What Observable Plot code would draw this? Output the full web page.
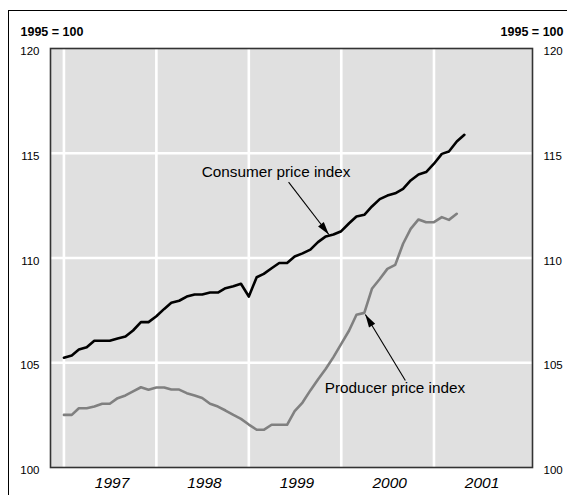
<!DOCTYPE html>
<html><head><meta charset="utf-8">
<script src="https://cdn.jsdelivr.net/npm/d3@7"></script>
<script src="https://cdn.jsdelivr.net/npm/@observablehq/plot@0.6"></script>
<style>
html,body{margin:0;padding:0;background:#fff;overflow:hidden;}
#wrap{position:relative;width:567px;height:495px;overflow:hidden;}
#outer{position:absolute;left:8px;top:10px;width:700px;height:700px;border:1.6px solid #000;box-sizing:border-box;}
#chart{position:absolute;left:0;top:0;}
</style></head><body>
<div id="wrap"><div id="outer"></div><div id="chart"></div></div>
<script>
// ---- data (monthly, index 1995 = 100) ----
const firstMonth = "1997-01-01";
const cpiValues = [
  105.24,105.35,105.63,105.74,106.05,106.05,106.05,106.16,106.25,106.54,106.94,106.94,
  107.22,107.57,107.86,107.96,108.16,108.26,108.26,108.35,108.35,108.56,108.65,108.77,
  108.16,109.08,109.24,109.51,109.76,109.76,110.07,110.22,110.40,110.76,111.03,111.12,
  111.28,111.66,111.98,112.06,112.46,112.81,112.98,113.09,113.30,113.70,113.99,114.10,
  114.50,114.97,115.08,115.56,115.88
];
const ppiValues = [
  102.51,102.51,102.83,102.83,102.91,103.04,103.04,103.31,103.44,103.63,103.83,103.71,
  103.82,103.82,103.72,103.72,103.55,103.44,103.32,103.04,102.91,102.72,102.51,102.32,
  102.05,101.80,101.80,102.04,102.04,102.04,102.69,103.10,103.68,104.20,104.71,105.27,
  105.90,106.54,107.29,107.38,108.53,109.00,109.48,109.67,110.68,111.39,111.84,111.71,
  111.71,111.95,111.82,112.11
];
const seriesNames = ["Consumer price index", "Producer price index"];
const seriesColors = ["#000000", "#808080"];
const yearStarts = ["1997-01-01","1998-01-01","1999-01-01","2000-01-01","2001-01-01"];
const yearLabels = ["1997","1998","1999","2000","2001"];
const yearLabelPos = ["1997-07-02","1998-07-02","1999-07-02","2000-07-02","2001-07-02"];
const yTicks = [100,105,110,115,120];
const yGrid = [105,110,115];
const unitLabel = "1995 = 100";
const xDomain = ["1996-11-09","2002-01-25"];
const yDomain = [100,120];
// annotation anchors, in data coordinates
const annText = [
  {label: "Consumer price index", x: "1998-06-29", y: 114.09},
  {label: "Producer price index", x: "1999-10-28", y: 103.81}
];
const annArrows = [
  {x1: "1999-06-07", y1: 113.62, x2: "1999-11-13", y2: 111.12},
  {x1: "2000-09-10", y1: 104.15, x2: "2000-04-05", y2: 107.30}
];

// ---- build tables ----
const parse = d3.utcParse("%Y-%m-%d");
const m0 = parse(firstMonth);
const rows = [];
cpiValues.forEach((v, i) => rows.push({date: d3.utcMonth.offset(m0, i), value: v, series: seriesNames[0]}));
ppiValues.forEach((v, i) => rows.push({date: d3.utcMonth.offset(m0, i), value: v, series: seriesNames[1]}));
const years = yearStarts.map(parse);
const yearLab = yearLabelPos.map((d, i) => ({date: parse(d), label: yearLabels[i]}));
const texts = annText.map(d => ({...d, x: parse(d.x)}));
const arrows = annArrows.map(d => ({...d, x1: parse(d.x1), x2: parse(d.x2), angle: 0}));

const arrowHead = {
  draw(ctx) { ctx.moveTo(0, 0); ctx.lineTo(-3.6, 13); ctx.lineTo(3.6, 13); ctx.closePath(); }
};
const FONT = "'Liberation Sans', Arial, Helvetica, sans-serif";

function makePlot() {
  return Plot.plot({
    width: 567, height: 495,
    marginLeft: 50, marginRight: 35, marginTop: 48, marginBottom: 28,
    style: {fontFamily: FONT, background: "transparent", overflow: "visible"},
    x: {type: "utc", domain: xDomain.map(parse), axis: null},
    y: {domain: yDomain, axis: null},
    color: {domain: seriesNames, range: seriesColors},
    marks: [
      Plot.frame({fill: "#e0e0e0", stroke: null}),
      Plot.ruleY(yGrid, {stroke: "#ffffff", strokeWidth: 2.6}),
      Plot.ruleX(years, {stroke: "#ffffff", strokeWidth: 2.6}),
      Plot.line(rows, {x: "date", y: "value", z: "series", stroke: "series", strokeWidth: 2.6}),
      Plot.frame({stroke: "#333333", strokeWidth: 1.6}),
      // y tick labels, both sides
      Plot.text(yTicks, {y: d => d, frameAnchor: "left", dx: -11, dy: 3, textAnchor: "end", fontSize: 11.5, fill: "#000"}),
      Plot.text(yTicks, {y: d => d, frameAnchor: "right", dx: 11, dy: 3, textAnchor: "start", fontSize: 11.5, fill: "#000"}),
      // year labels
      Plot.text(yearLab, {x: "date", text: "label", frameAnchor: "bottom", dy: 20, dx: 2, fontSize: 15.5, fontStyle: "italic", fill: "#000"}),
      // unit labels
      Plot.text([unitLabel], {frameAnchor: "top-left", dx: -30, dy: -21, textAnchor: "start", fontSize: 12.5, fontWeight: "bold", fill: "#000"}),
      Plot.text([unitLabel], {frameAnchor: "top-right", dx: 31, dy: -21, textAnchor: "end", fontSize: 12.5, fontWeight: "bold", fill: "#000"}),
      // annotations
      Plot.text(texts, {x: "x", y: "y", text: "label", textAnchor: "start", fontSize: 15.3, fill: "#000"}),
      Plot.link(arrows, {x1: "x1", y1: "y1", x2: "x2", y2: "y2", stroke: "#000", strokeWidth: 1.1}),
      Plot.dot(arrows, {x: "x2", y: "y2", symbol: arrowHead, rotate: "angle", fill: "#000", stroke: null, r: 4})
    ]
  });
}

// first pass: get scales to orient arrowheads along their shafts
let p = makePlot();
const sx = p.scale("x"), sy = p.scale("y");
arrows.forEach(a => {
  const dx = sx.apply(a.x2) - sx.apply(a.x1);
  const dy = sy.apply(a.y2) - sy.apply(a.y1);
  a.angle = Math.atan2(dx, -dy) * 180 / Math.PI;
});
p = makePlot();
document.getElementById("chart").appendChild(p);
</script>
</body></html>
